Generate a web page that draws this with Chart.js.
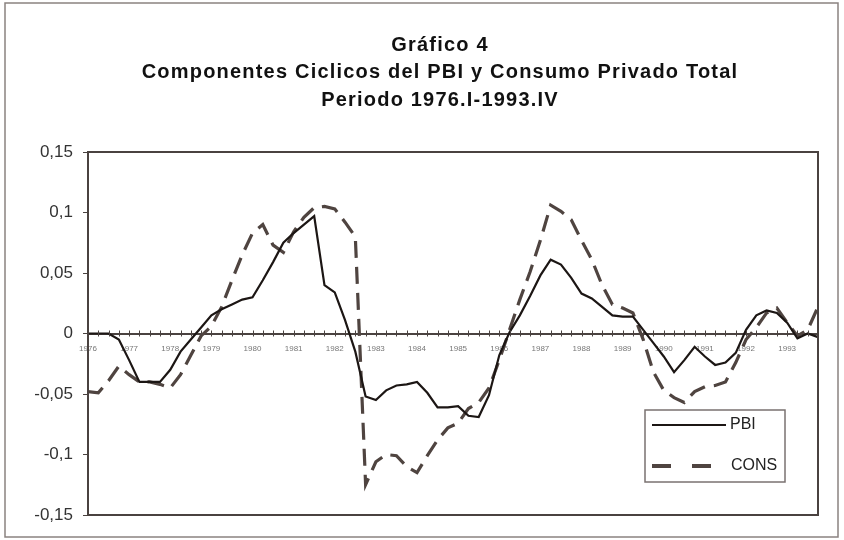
<!DOCTYPE html>
<html>
<head>
<meta charset="utf-8">
<script src="https://cdn.jsdelivr.net/npm/chart.js@4/dist/chart.umd.min.js"></script>
<style>
  body { margin: 0; background: #fff; }
  #wrap { width: 844px; height: 540px; }
</style>
</head>
<body>
<div id="wrap"><canvas id="ciclos" width="844" height="540"></canvas></div>
<script>
// Gráfico 4 - componentes cíclicos, trimestral 1976.I - 1993.IV
const years = ["1976", "1977", "1978", "1979", "1980", "1981", "1982", "1983", "1984",
  "1985", "1986", "1987", "1988", "1989", "1990", "1991", "1992", "1993"];
const quarterNames = ["I", "II", "III", "IV"];

const pbi = [0, 0, 0, -0.005, -0.022, -0.04, -0.04, -0.04, -0.03, -0.015,
  -0.005, 0.005, 0.015, 0.02, 0.024, 0.028, 0.030, 0.044, 0.059, 0.075,
  0.083, 0.090, 0.097, 0.040, 0.034, 0.011, -0.015, -0.052, -0.055, -0.047,
  -0.043, -0.042, -0.040, -0.049, -0.061, -0.061, -0.060, -0.068, -0.069, -0.051,
  -0.018, 0.001, 0.015, 0.031, 0.048, 0.061, 0.057, 0.046, 0.033, 0.029,
  0.022, 0.015, 0.014, 0.014, 0.003, -0.008, -0.019, -0.032, -0.022, -0.011,
  -0.019, -0.026, -0.024, -0.016, 0.003, 0.015, 0.019, 0.017, 0.009, -0.004,
  0.000, -0.003];

const cons = [-0.048, -0.049, -0.039, -0.027, -0.034, -0.040, -0.040, -0.042, -0.045, -0.034,
  -0.018, -0.002, 0.006, 0.022, 0.044, 0.065, 0.083, 0.090, 0.073, 0.067,
  0.084, 0.096, 0.104, 0.105, 0.103, 0.092, 0.080, -0.125, -0.106, -0.100,
  -0.101, -0.110, -0.115, -0.101, -0.088, -0.078, -0.074, -0.062, -0.057, -0.045,
  -0.022, 0.003, 0.028, 0.051, 0.077, 0.106, 0.101, 0.094, 0.077, 0.061,
  0.040, 0.024, 0.021, 0.017, -0.005, -0.032, -0.047, -0.053, -0.057, -0.048,
  -0.044, -0.043, -0.040, -0.024, -0.005, 0.005, 0.017, 0.021, 0.009, -0.002,
  0.003, 0.022];

const titleLines = ["Gráfico 4",
  "Componentes Ciclicos del PBI y Consumo Privado Total",
  "Periodo 1976.I-1993.IV"];

const labels = [];
years.forEach(y => quarterNames.forEach(q => labels.push(y + "." + q)));

const FONT = "'Liberation Sans', Arial, sans-serif";
const AXIS_COLOR = "#4a4240";

// marco exterior, titulo, borde del area, marcas del eje y leyenda
const decor = {
  id: "decor",
  beforeDraw(chart) {
    const ctx = chart.ctx;
    ctx.save();
    ctx.fillStyle = "#fff";
    ctx.fillRect(0, 0, chart.width, chart.height);
    ctx.strokeStyle = "#8a8280";
    ctx.lineWidth = 1.5;
    ctx.strokeRect(5, 3, 833, 534);
    ctx.fillStyle = "#111";
    ctx.font = "bold 20px " + FONT;
    ctx.letterSpacing = "1.2px";
    ctx.textAlign = "center";
    ctx.textBaseline = "middle";
    titleLines.forEach((t, i) => ctx.fillText(t, 440, 45 + i * 27.5));
    ctx.letterSpacing = "0px";
    ctx.restore();
  },
  afterDatasetsDraw(chart) {
    const ctx = chart.ctx;
    const a = chart.chartArea;
    const x = chart.scales.x;
    const y0 = chart.scales.y.getPixelForValue(0);
    ctx.save();
    ctx.strokeStyle = AXIS_COLOR;
    ctx.lineWidth = 2;
    ctx.strokeRect(a.left, a.top, a.right - a.left, a.bottom - a.top);
    ctx.lineWidth = 1;
    for (let i = 0; i < labels.length; i++) {
      const px = Math.round(x.getPixelForValue(i)) + 0.5;
      ctx.beginPath();
      ctx.moveTo(px, y0 - 3);
      ctx.lineTo(px, y0 + 3);
      ctx.stroke();
    }
    // leyenda
    const lx = 645, ly = 410, lw = 140, lh = 72;
    ctx.fillStyle = "#fff";
    ctx.fillRect(lx, ly, lw, lh);
    ctx.strokeStyle = "#7a7270";
    ctx.lineWidth = 1.5;
    ctx.strokeRect(lx, ly, lw, lh);
    const ds = chart.data.datasets;
    ctx.lineWidth = ds[0].borderWidth;
    ctx.strokeStyle = ds[0].borderColor;
    ctx.beginPath();
    ctx.moveTo(lx + 7, ly + 15);
    ctx.lineTo(lx + 81, ly + 15);
    ctx.stroke();
    ctx.lineWidth = 4;
    ctx.strokeStyle = ds[1].borderColor;
    ctx.setLineDash([19, 21]);
    ctx.beginPath();
    ctx.moveTo(lx + 7, ly + 56);
    ctx.lineTo(lx + 81, ly + 56);
    ctx.stroke();
    ctx.setLineDash([]);
    ctx.fillStyle = "#222";
    ctx.font = "16px " + FONT;
    ctx.textAlign = "left";
    ctx.textBaseline = "middle";
    ctx.fillText(ds[0].label, lx + 85, ly + 15);
    ctx.fillText(ds[1].label, lx + 86, ly + 56);
    ctx.restore();
  }
};

new Chart(document.getElementById("ciclos"), {
  type: "line",
  data: {
    labels: labels,
    datasets: [
      {
        label: "PBI",
        data: pbi,
        borderColor: "#1c1614",
        borderWidth: 2.2,
        pointRadius: 0,
        tension: 0,
        fill: false
      },
      {
        label: "CONS",
        data: cons,
        borderColor: "#4f4440",
        borderWidth: 3.2,
        borderDash: [17, 9],
        pointRadius: 0,
        tension: 0,
        fill: false
      }
    ]
  },
  options: {
    responsive: false,
    animation: false,
    layout: { padding: { top: 152, right: 26, bottom: 25, left: 0 } },
    plugins: {
      legend: { display: false },
      title: { display: false },
      tooltip: { enabled: false }
    },
    scales: {
      x: {
        type: "category",
        position: { y: 0 },
        offset: false,
        grid: { display: false, drawTicks: false },
        border: { display: true, color: AXIS_COLOR, width: 2 },
        ticks: {
          autoSkip: false,
          maxRotation: 0,
          padding: 10,
          color: "#777",
          font: { family: FONT, size: 8 },
          callback: (v, i) => (i % 4 === 0 ? years[i / 4] : "")
        }
      },
      y: {
        min: -0.15,
        max: 0.15,
        afterFit: s => { s.width = 88; },
        grid: { drawOnChartArea: false, drawTicks: true, tickLength: 5, color: AXIS_COLOR },
        border: { display: true, color: AXIS_COLOR, width: 2 },
        ticks: {
          stepSize: 0.05,
          padding: 10,
          color: "#333",
          font: { family: FONT, size: 17 },
          callback: v => String(Number(v.toFixed(2))).replace(".", ",")
        }
      }
    }
  },
  plugins: [decor]
});
</script>
</body>
</html>
